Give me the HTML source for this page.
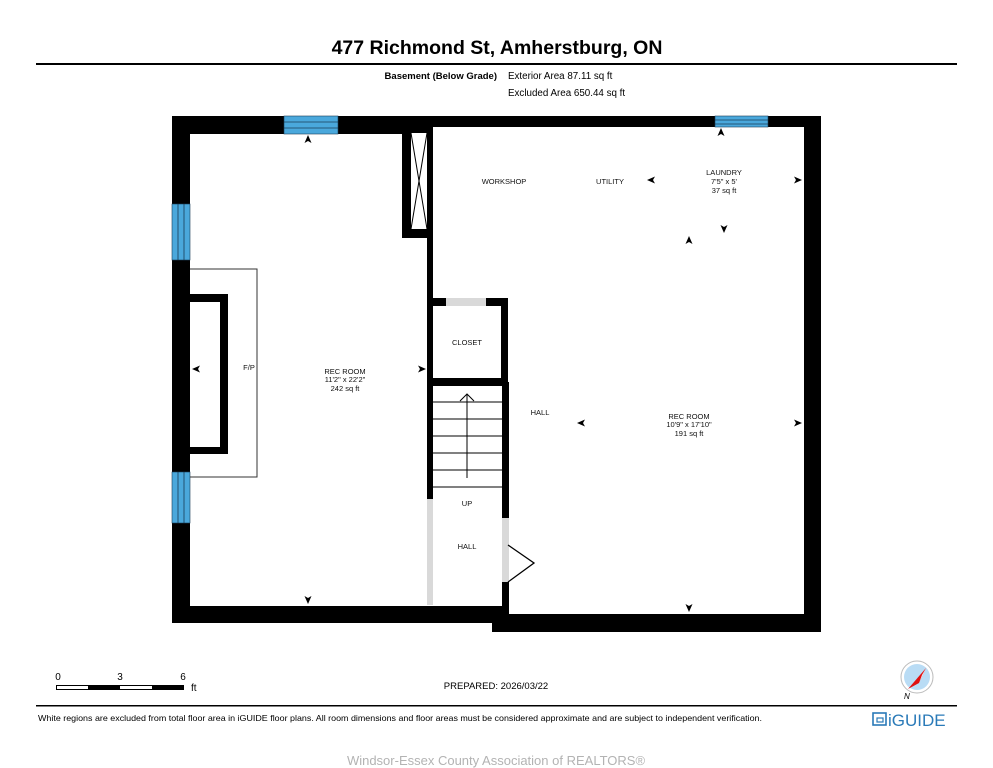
<!DOCTYPE html>
<html><head><meta charset="utf-8"><style>
html,body{margin:0;padding:0;background:#fff;}
svg{display:block;font-family:"Liberation Sans",Arial,sans-serif;}
</style></head><body>
<svg width="993" height="768" viewBox="0 0 993 768" xmlns="http://www.w3.org/2000/svg">
<defs>
<path id="ar" d="M-4,-3.5 L4,0 L-4,3.5 L-2,0 Z" fill="#000"/>
</defs>
<rect width="993" height="768" fill="#fff"/>
<text x="497" y="54" text-anchor="middle" font-size="19.5" font-weight="bold">477 Richmond St, Amherstburg, ON</text>
<rect x="36" y="63" width="921" height="2" fill="#000"/>
<text x="497" y="79" text-anchor="end" font-size="9.5" font-weight="bold">Basement (Below Grade)</text>
<text x="508" y="79" font-size="9.8">Exterior Area 87.11 sq ft</text>
<text x="508" y="96" font-size="9.8">Excluded Area 650.44 sq ft</text>

<g fill="#000">
<rect x="172" y="116" width="261" height="18"/>
<rect x="427" y="116" width="394" height="11"/>
<rect x="172" y="116" width="18" height="507"/>
<rect x="804" y="116" width="17" height="516"/>
<rect x="172" y="606" width="337" height="17"/>
<rect x="492" y="614" width="329" height="18"/>
<rect x="402" y="127" width="31" height="111"/>
<rect x="427" y="127" width="6" height="372"/>
<rect x="427" y="298" width="81" height="8"/>
<rect x="501" y="298" width="7" height="88"/>
<rect x="427" y="378" width="81" height="8"/>
<rect x="502" y="382" width="7" height="136"/>
<rect x="502" y="582" width="7" height="32"/>
<rect x="190" y="294" width="38" height="8"/>
<rect x="220" y="294" width="8" height="160"/>
<rect x="190" y="447" width="38" height="7"/>
</g>
<rect x="411" y="133" width="16" height="96" fill="#fff"/>
<path d="M411,133 L427,229 M427,133 L411,229" stroke="#000" stroke-width="1"/>
<rect x="446" y="298" width="40" height="8" fill="#d9d9d9"/>
<rect x="427" y="499" width="6" height="106" fill="#d9d9d9"/>
<rect x="502" y="518" width="7" height="64" fill="#d9d9d9"/>
<path d="M508,545 L534,563 L508,582" stroke="#000" stroke-width="1.3" fill="none"/>
<g fill="#4aa8dc" stroke="#1a3c55" stroke-width="0.6">
<rect x="284" y="116" width="54" height="18"/>
<rect x="715" y="116" width="53" height="11"/>
<rect x="172" y="204" width="18" height="56"/>
<rect x="172" y="472" width="18" height="51"/>
</g>
<path d="M284,122 H338 M284,128 H338 M715,120 H768 M715,124 H768 M178,204 V260 M184,204 V260 M178,472 V523 M184,472 V523" stroke="#1a3c55" stroke-width="0.8"/>
<path d="M190,269 H257 V477 H190" stroke="#333" stroke-width="1" fill="none"/>
<g stroke="#000" stroke-width="1">
<path d="M433,402 H502 M433,419 H502 M433,436 H502 M433,453 H502 M433,470 H502 M433,487 H502"/>
<path d="M467,478 V394 M460,401 L467,394 L474,401" fill="none"/>
</g>
<use href="#ar" transform="translate(308,139) rotate(-90)"/>
<use href="#ar" transform="translate(196,369) rotate(180)"/>
<use href="#ar" transform="translate(422,369)"/>
<use href="#ar" transform="translate(308,600) rotate(90)"/>
<use href="#ar" transform="translate(651,180) rotate(180)"/>
<use href="#ar" transform="translate(798,180)"/>
<use href="#ar" transform="translate(724,229) rotate(90)"/>
<use href="#ar" transform="translate(689,240) rotate(-90)"/>
<use href="#ar" transform="translate(721,132) rotate(-90)"/>
<use href="#ar" transform="translate(581,423) rotate(180)"/>
<use href="#ar" transform="translate(798,423)"/>
<use href="#ar" transform="translate(689,608) rotate(90)"/>
<g font-size="7.5" text-anchor="middle" fill="#111">
<text x="504" y="184">WORKSHOP</text>
<text x="610" y="184">UTILITY</text>
<text x="724" y="175">LAUNDRY</text>
<text x="724" y="184">7'5" x 5'</text>
<text x="724" y="193">37 sq ft</text>
<text x="467" y="345">CLOSET</text>
<text x="249" y="370">F/P</text>
<text x="345" y="374">REC ROOM</text>
<text x="345" y="382">11'2" x 22'2"</text>
<text x="345" y="391">242 sq ft</text>
<text x="540" y="415">HALL</text>
<text x="689" y="419">REC ROOM</text>
<text x="689" y="427">10'9" x 17'10"</text>
<text x="689" y="436">191 sq ft</text>
<text x="467" y="506">UP</text>
<text x="467" y="549">HALL</text>
</g>
<g font-size="10">
<text x="58" y="680" text-anchor="middle">0</text>
<text x="120" y="680" text-anchor="middle">3</text>
<text x="183" y="680" text-anchor="middle">6</text>
<text x="191" y="691">ft</text>
</g>
<rect x="56.5" y="685.5" width="127" height="4" fill="#fff" stroke="#000" stroke-width="1"/>
<rect x="88" y="685" width="32" height="5" fill="#000"/>
<rect x="152" y="685" width="32" height="5" fill="#000"/>
<text x="496" y="689" text-anchor="middle" font-size="9.5">PREPARED: 2026/03/22</text>
<circle cx="917" cy="677" r="16" fill="#fff" stroke="#bbb" stroke-width="1"/>
<circle cx="917" cy="677" r="13" fill="#b9dcf5"/>
<path d="M908,689 L926,668 L919,683 Z" fill="#e01010"/>
<path d="M926,668 L919,683 L922,675 Z" fill="#fff"/>
<text x="904" y="699" font-size="8" font-style="italic">N</text>
<rect x="36" y="705" width="921" height="1.5" fill="#000"/>
<text x="38" y="721" font-size="8.5" textLength="724" lengthAdjust="spacingAndGlyphs">White regions are excluded from total floor area in iGUIDE floor plans. All room dimensions and floor areas must be considered approximate and are subject to independent verification.</text>
<rect x="873" y="713" width="13" height="12" fill="none" stroke="#2a7ab8" stroke-width="1.6"/>
<rect x="877" y="718" width="6" height="4" fill="none" stroke="#2a7ab8" stroke-width="1.2"/>
<text x="888" y="726" font-size="17" fill="#2a7ab8">iGUIDE</text>
<text x="496" y="765" text-anchor="middle" font-size="13" fill="#b3b3b3">Windsor-Essex County Association of REALTORS®</text>
</svg>
</body></html>
